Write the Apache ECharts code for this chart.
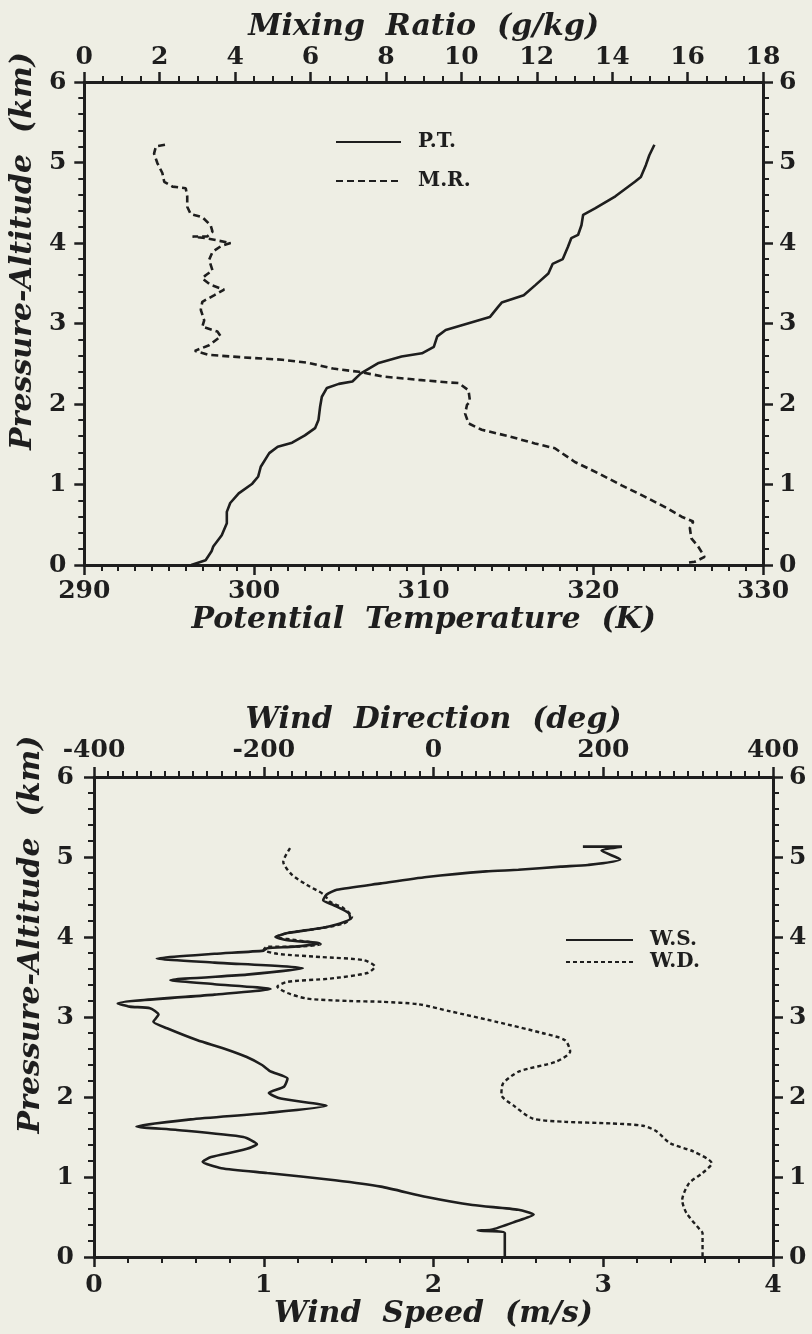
<!DOCTYPE html>
<html>
<head>
<meta charset="utf-8">
<script src="https://cdn.jsdelivr.net/npm/echarts@6/dist/echarts.min.js"></script>
<style>
html, body { margin: 0; padding: 0; background: #eeeee4; }
#main { width: 812px; height: 1334px; }
</style>
</head>
<body>
<div id="main"></div>
<script>
// upper panel: potential temperature (K) and mixing ratio (g/kg) vs altitude (km)
const ptK = [296.3, 297.15, 297.5, 297.6, 298.1, 298.4, 298.4, 298.6, 299.1, 299.9, 300.25, 300.4, 300.9, 301.4,
  302.25, 303.0, 303.6, 303.8, 303.9, 304.0, 304.3, 305.0, 305.8, 306.3, 307.35, 308.7, 309.9, 310.6, 310.8,
  311.3, 312.6, 313.9, 314.4, 314.6, 315.9, 316.6, 317.35, 317.6, 318.2, 318.5, 318.7, 319.1, 319.3, 319.4,
  320.1, 321.3, 322.45, 322.8, 323.1, 323.3, 323.6];
const ptAlt = [0.00, 0.06, 0.17, 0.23, 0.37, 0.52, 0.66, 0.77, 0.89, 1.01, 1.10, 1.22, 1.39, 1.47,
  1.52, 1.61, 1.70, 1.80, 1.97, 2.09, 2.20, 2.25, 2.28, 2.38, 2.51, 2.59, 2.63, 2.71, 2.84,
  2.92, 3.00, 3.08, 3.21, 3.26, 3.35, 3.48, 3.62, 3.74, 3.80, 3.95, 4.06, 4.10, 4.22, 4.35,
  4.43, 4.58, 4.76, 4.82, 4.97, 5.09, 5.22];

const mrGkg = [2.14, 1.90, 1.85, 1.94, 2.07, 2.12, 2.34, 2.69, 2.73, 2.73, 2.82, 3.13, 3.35, 3.40, 3.26, 2.87,
  3.22, 3.88, 3.62, 3.40, 3.31, 3.40, 3.22, 3.13, 3.35, 3.71, 3.44, 3.13, 3.09, 3.18, 3.13, 3.53, 3.62,
  3.31, 2.93, 3.31, 4.19, 5.25, 5.96, 6.60, 7.28, 7.95, 8.87, 9.60, 9.93, 10.19, 10.23, 10.15, 10.10,
  10.19, 10.54, 11.25, 11.95, 12.48, 13.01, 13.63, 14.25, 14.86, 15.48, 15.84, 16.15, 16.06, 16.10,
  16.28, 16.45, 16.19, 16.01];
const mrAlt = [5.22, 5.20, 5.11, 4.99, 4.87, 4.76, 4.70, 4.68, 4.58, 4.45, 4.36, 4.32, 4.22, 4.14, 4.08, 4.08,
  4.06, 4.00, 3.96, 3.89, 3.79, 3.66, 3.60, 3.56, 3.48, 3.42, 3.35, 3.27, 3.17, 3.04, 2.96, 2.90, 2.84,
  2.73, 2.66, 2.61, 2.58, 2.55, 2.51, 2.44, 2.40, 2.34, 2.30, 2.27, 2.26, 2.17, 2.03, 1.99, 1.88,
  1.76, 1.68, 1.60, 1.51, 1.45, 1.28, 1.14, 0.99, 0.85, 0.70, 0.60, 0.54, 0.46, 0.33,
  0.23, 0.10, 0.04, 0.03];

// lower panel: wind speed (m/s) and wind direction (deg) vs altitude (km)
const wsMs = [2.88, 3.11, 2.99, 3.10, 2.91, 2.75, 2.50, 2.31, 1.96, 1.69, 1.43, 1.37, 1.35, 1.41, 1.50, 1.51,
  1.45, 1.33, 1.14, 1.07, 1.14, 1.33, 1.18, 1.02, 1.00, 0.71, 0.37, 0.71, 1.23, 0.90, 0.45, 0.71, 1.04,
  0.71, 0.14, 0.21, 0.33, 0.38, 0.35, 0.43, 0.61, 0.76, 0.90, 0.99, 1.04, 1.14, 1.12, 1.03, 1.10, 1.37,
  1.02, 0.57, 0.25, 0.48, 0.88, 0.96, 0.88, 0.69, 0.64, 0.75, 1.02, 1.42, 1.69, 1.96, 2.23, 2.50, 2.59,
  2.48, 2.34, 2.26, 2.42, 2.42];
const wsAlt = [5.13, 5.13, 5.08, 4.97, 4.90, 4.88, 4.84, 4.82, 4.75, 4.67, 4.59, 4.53, 4.46, 4.40, 4.30, 4.23,
  4.17, 4.11, 4.05, 4.00, 3.96, 3.92, 3.88, 3.86, 3.83, 3.79, 3.73, 3.68, 3.61, 3.53, 3.46, 3.41, 3.35,
  3.28, 3.17, 3.13, 3.11, 3.03, 2.94, 2.86, 2.71, 2.61, 2.50, 2.40, 2.32, 2.23, 2.13, 2.05, 1.98, 1.89,
  1.80, 1.72, 1.63, 1.59, 1.50, 1.41, 1.34, 1.25, 1.19, 1.11, 1.05, 0.96, 0.88, 0.75, 0.65, 0.59, 0.53,
  0.44, 0.34, 0.33, 0.30, 0.00];

const wdDeg = [-169, -177, -167, -149, -129, -122, -106, -96, -106, -133, -172, -186, -161, -133, -161, -196,
  -200, -184, -133, -82, -69, -78, -122, -172, -184, -172, -149, -100, -61, -18, 20, 74, 128, 155, 161,
  144, 101, 82, 80, 96, 117, 155, 209, 247, 263, 279, 306, 328, 317, 301, 293, 298, 314, 317, 317];
const wdAlt = [5.11, 4.94, 4.78, 4.65, 4.53, 4.44, 4.36, 4.25, 4.17, 4.11, 4.05, 4.00, 3.96, 3.91, 3.88, 3.88,
  3.84, 3.79, 3.75, 3.71, 3.63, 3.55, 3.48, 3.44, 3.38, 3.30, 3.23, 3.20, 3.19, 3.16, 3.07, 2.94, 2.80, 2.71, 2.57,
  2.44, 2.32, 2.17, 2.03, 1.88, 1.73, 1.69, 1.67, 1.64, 1.57, 1.42, 1.32, 1.17, 1.05, 0.92, 0.71, 0.55, 0.34, 0.30, 0.00];

const ink = '#1e1e1e';
const labelFont = { fontFamily: 'DejaVu Serif', fontWeight: 'bold', fontSize: 25, color: ink };
const titleFont = { fontFamily: 'DejaVu Serif', fontWeight: 'bold', fontStyle: 'italic', fontSize: 30, color: ink };
const legendFont = { fontFamily: 'DejaVu Serif', fontWeight: 'bold', fontSize: 20, color: ink, padding: [0, 0, 0, 12] };

function pairs(xs, ys) {
  return xs.map(function (v, i) { return [v, ys[i]]; });
}

// one framed axis with outward ticks
function axis(grid, pos, min, max, step, minor, margin, extra) {
  return Object.assign({
    type: 'value', gridIndex: grid, position: pos, min: min, max: max, interval: step,
    axisLine: { show: true, onZero: false, lineStyle: { color: ink, width: 3 } },
    axisTick: { show: true, length: 10, lineStyle: { color: ink, width: 2.5 } },
    minorTick: { show: true, splitNumber: minor, length: 6, lineStyle: { color: ink, width: 2 } },
    splitLine: { show: false },
    minorSplitLine: { show: false },
    axisLabel: Object.assign({ margin: margin }, labelFont)
  }, extra || {});
}

const chart = echarts.init(document.getElementById('main'));
const option = {
  animation: false,
  backgroundColor: '#eeeee4',
  grid: [
    { left: 82, top: 82, width: 681, height: 483 },
    { left: 94, top: 777, width: 679, height: 480 }
  ],
  xAxis: [
    axis(0, 'bottom', 290, 330, 10, 10, 14, {
      name: 'Potential  Temperature  (K)', nameLocation: 'middle', nameGap: 40, nameTextStyle: titleFont
    }),
    axis(0, 'top', 0, 18, 2, 4, 12, {
      name: 'Mixing  Ratio  (g/kg)', nameLocation: 'middle', nameGap: 40, nameTextStyle: titleFont
    }),
    axis(1, 'bottom', 0, 4, 1, 5, 16, {
      name: 'Wind  Speed  (m/s)', nameLocation: 'middle', nameGap: 42, nameTextStyle: titleFont
    }),
    axis(1, 'top', -400, 400, 200, 12, 14, {
      name: 'Wind  Direction  (deg)', nameLocation: 'middle', nameGap: 42, nameTextStyle: titleFont
    })
  ],
  yAxis: [
    axis(0, 'left', 0, 6, 1, 5, 18, {
      name: 'Pressure-Altitude  (km)', nameLocation: 'middle', nameGap: 38,
      nameTextStyle: Object.assign({ padding: [0, 0, 0, 145] }, titleFont)
    }),
    axis(0, 'right', 0, 6, 1, 5, 16),
    axis(1, 'left', 0, 6, 1, 5, 20, {
      name: 'Pressure-Altitude  (km)', nameLocation: 'middle', nameGap: 40,
      nameTextStyle: Object.assign({ padding: [0, 0, 0, 165] }, titleFont)
    }),
    axis(1, 'right', 0, 6, 1, 5, 16)
  ],
  legend: [
    {
      data: ['P.T.', 'M.R.'], orient: 'vertical', left: 335, top: 132, padding: 0,
      itemWidth: 65, itemHeight: 14, itemGap: 19, textStyle: legendFont,
      itemStyle: { opacity: 0 }
    },
    {
      data: ['W.S.', 'W.D.'], orient: 'vertical', left: 565, top: 930, padding: 0,
      itemWidth: 67, itemHeight: 14, itemGap: 2, textStyle: legendFont,
      itemStyle: { opacity: 0 }
    }
  ],
  series: [
    {
      name: 'P.T.', type: 'line', xAxisIndex: 0, yAxisIndex: 0, symbol: 'none',
      itemStyle: { color: ink },
      lineStyle: { color: ink, width: 2.6 },
      data: pairs(ptK, ptAlt)
    },
    {
      name: 'M.R.', type: 'line', xAxisIndex: 1, yAxisIndex: 0, symbol: 'none',
      itemStyle: { color: ink },
      lineStyle: { color: ink, width: 2.6, type: [7, 4] },
      data: pairs(mrGkg, mrAlt)
    },
    {
      name: 'W.S.', type: 'line', xAxisIndex: 2, yAxisIndex: 2, symbol: 'none', smooth: 0.2,
      itemStyle: { color: ink },
      lineStyle: { color: ink, width: 2.6 },
      data: pairs(wsMs, wsAlt)
    },
    {
      name: 'W.D.', type: 'line', xAxisIndex: 3, yAxisIndex: 2, symbol: 'none', smooth: 0.25,
      itemStyle: { color: ink },
      lineStyle: { color: ink, width: 2.4, type: [4, 3] },
      data: pairs(wdDeg, wdAlt)
    }
  ]
};
chart.setOption(option);
</script>
</body>
</html>
